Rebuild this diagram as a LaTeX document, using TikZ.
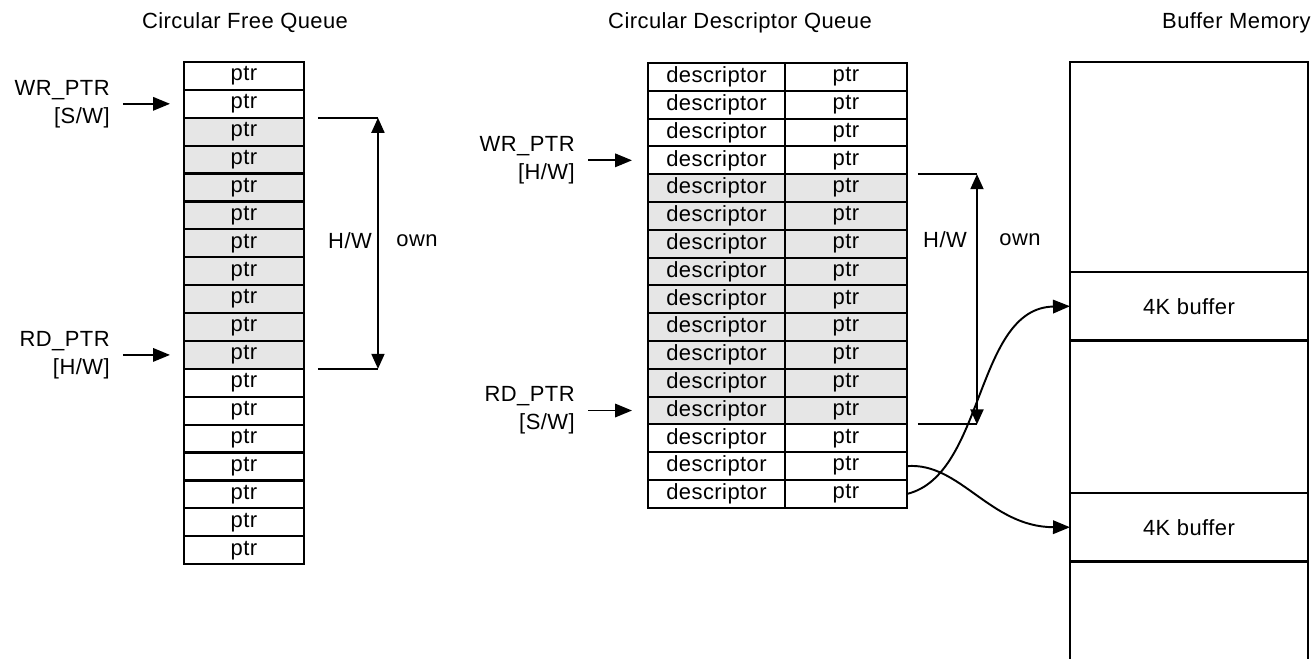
\documentclass[tikz,border=0pt]{standalone}
\usepackage{fontspec}
\setmainfont{Liberation Sans}[LetterSpace=2]
\usetikzlibrary{arrows.meta,calc}
\definecolor{owned}{HTML}{E6E6E6}
\begin{document}
\begin{tikzpicture}[
	x=0.02cm, y=-0.02cm,
	font=\fontsize{12.5}{16}\selectfont,
	cell/.style={
		draw, line width=1.2pt, rectangle, anchor=north west,
		minimum height=0.557cm, inner sep=0pt, outer sep=0pt
	},
	title/.style={inner sep=0pt},
	lbl/.style={align=right, anchor=east, inner sep=0pt},
	edge/.style={-{Triangle[length=0.34cm, width=0.27cm]}, line width=1.1pt},
	span/.style={{Triangle[length=0.3cm, width=0.26cm]}-{Triangle[length=0.3cm, width=0.26cm]}, line width=1.1pt},
	tick/.style={line width=1.1pt},
	]
	\useasboundingbox (0,0) rectangle (1313,659);
	
	\node[title] (tfree) at (245, 23)  {Circular Free Queue};
	\node[title] (tdesc) at (740, 23)  {Circular Descriptor Queue};
	\node[title, anchor=east] (tmem) at (1311, 23) {Buffer Memory};
	
	% free queue, rows 3..11 owned by H/W
	\foreach \i in {1,...,18} {
		\pgfmathtruncatemacro{\own}{(\i>2)&&(\i<12)}
		\ifnum\own=1 \def\cellfill{owned}\else\def\cellfill{white}\fi
		\node[cell, minimum width=2.4cm, fill=\cellfill] (fq\i) at (184, {62+(\i-1)*27.9}) {ptr};
	}
	
	% descriptor queue, rows 5..13 owned by H/W
	\foreach \i in {1,...,16} {
		\pgfmathtruncatemacro{\own}{(\i>4)&&(\i<14)}
		\ifnum\own=1 \def\cellfill{owned}\else\def\cellfill{white}\fi
		\node[cell, minimum width=2.74cm, fill=\cellfill] (dd\i) at (648, {63+(\i-1)*27.8}) {descriptor};
		\node[cell, minimum width=2.44cm, fill=\cellfill] (dp\i) at (785, {63+(\i-1)*27.8}) {ptr};
	}
	
	% pointers
	\node[lbl] (fwr) at (110, 104) {WR\_PTR\\{[S/W]}};
	\node[lbl] (frd) at (110, 355) {RD\_PTR\\{[H/W]}};
	\node[lbl] (dwr) at (575, 160) {WR\_PTR\\{[H/W]}};
	\node[lbl] (drd) at (575, 410) {RD\_PTR\\{[S/W]}};
	
	\draw[edge, shorten <=0.26cm, shorten >=0.28cm] (fwr.east |- fq2.west) -- (fq2.west);
	\draw[edge, shorten <=0.26cm, shorten >=0.28cm] (frd.east |- fq11.west) -- (fq11.west);
	\draw[edge, shorten <=0.26cm, shorten >=0.32cm] (dwr.east |- dd4.west) -- (dd4.west);
	\draw[edge, shorten <=0.26cm, shorten >=0.32cm] (drd.east |- dd13.west) -- (dd13.west);
	
	% H/W own ranges
	\coordinate (fhi) at ($(fq3.north east)+(74,0)$);
	\coordinate (flo) at ($(fq11.south east)+(74,0)$);
	\draw[tick] ($(fq3.north east)+(14,0)$) -- (fhi);
	\draw[tick] ($(fq11.south east)+(14,0)$) -- (flo);
	\draw[span] (fhi) -- (flo);
	\node (fhw)  at (350, 241) {H/W};
	\node (fown) at (417, 241) {own};
	
	\coordinate (dhi) at ($(dp5.north east)+(70,0)$);
	\coordinate (dlo) at ($(dp13.south east)+(70,0)$);
	\draw[tick] ($(dp5.north east)+(11,0)$) -- (dhi);
	\draw[tick] ($(dp13.south east)+(11,0)$) -- (dlo);
	\draw[span] (dhi) -- (dlo);
	\node (dhw)  at (945, 240)  {H/W};
	\node (down) at (1020, 240) {own};
	
	% buffer memory, open at the bottom
	\draw[line width=1.2pt] (1070, 659) -- (1070, 62) -- (1308, 62) -- (1308, 659);
	\node[cell, minimum width=4.76cm, minimum height=1.37cm] (buf1) at (1070, 272) {4K buffer};
	\node[cell, minimum width=4.76cm, minimum height=1.37cm] (buf2) at (1070, 493) {4K buffer};
	
	\draw[edge] (dp16.east) .. controls (985, 475) and (975, 308) .. (buf1.west);
	\draw[edge] (dp15.east) .. controls (960, 462) and (990, 527) .. (buf2.west);
	
\end{tikzpicture}
\end{document}
